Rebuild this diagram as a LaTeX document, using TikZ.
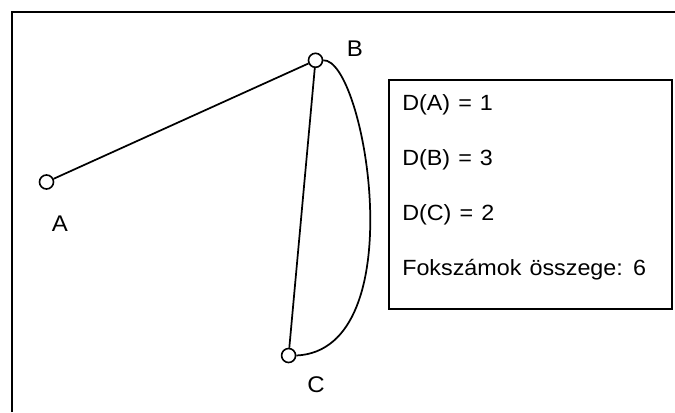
\documentclass[tikz,border=0pt]{standalone}
\usepackage{fontspec}
\setmainfont[FakeStretch=1.06,WordSpace=1.25]{Liberation Sans}
\begin{document}
\begin{tikzpicture}[x=0.75pt,y=-0.75pt,
  vertex/.style={circle,draw,fill=white,line width=1.2pt,inner sep=0pt,minimum size=10.5pt},
  lbl/.style={inner sep=0pt,anchor=base,font=\fontsize{17}{20}\selectfont},
  info/.style={inner sep=0pt,anchor=base west,font=\fontsize{16.5}{20}\selectfont},
  edge/.style={line width=1.3pt},
  infobox/.style={draw,line width=1.3pt,minimum width=212.25pt,minimum height=171.75pt,inner sep=0pt}]
\useasboundingbox (0,0) rectangle (675,412);
\draw[line width=1.7pt] (12,412) -- (12,12) -- (675,12);
\node[infobox] (box) at (530.5,194.5) {};
\node[info] (dA) at (402,110) {D(A) = 1};
\node[info] (dB) at (402,165) {D(B) = 3};
\node[info] (dC) at (402,220) {D(C) = 2};
\node[info] (sum) at (402,275) {Fokszámok összege: 6};
\node[vertex] (A) at (46.5,182) {};
\node[vertex] (B) at (315.5,60.3) {};
\node[vertex] (C) at (288.6,355.5) {};
\draw[edge] (A) -- (B);
\draw[edge] (B) -- (C);
\draw[edge] (B.east) .. controls (365,58) and (415,350) .. (C.east);
\node[lbl] (lA) at (60,231.5) {A};
\node[lbl] (lB) at (355,56.5) {B};
\node[lbl] (lC) at (316,392.5) {C};
\end{tikzpicture}
\end{document}
